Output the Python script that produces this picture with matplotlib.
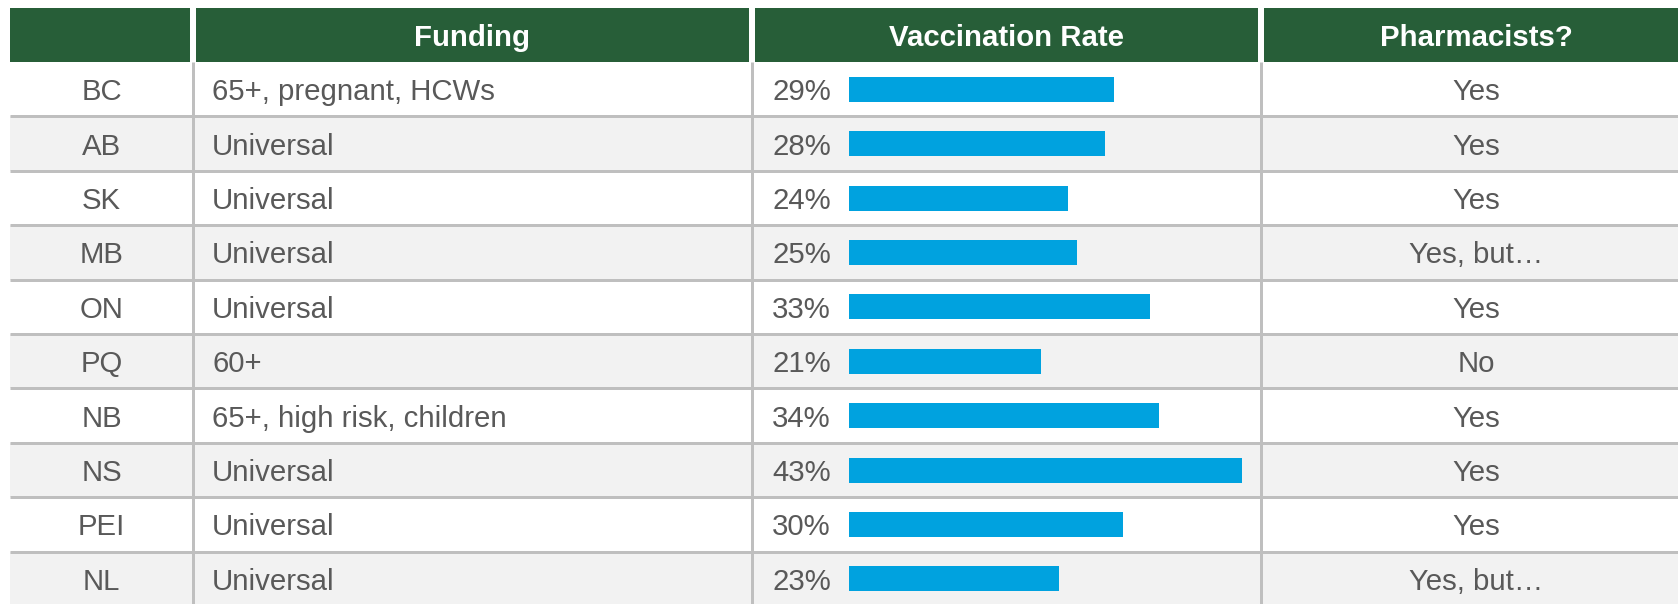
import matplotlib
matplotlib.use("Agg")
import matplotlib.pyplot as plt
from matplotlib.patches import Rectangle

# ---- data ----
provinces = ["BC", "AB", "SK", "MB", "ON", "PQ", "NB", "NS", "PEI", "NL"]
funding = ["65+, pregnant, HCWs", "Universal", "Universal", "Universal", "Universal",
           "60+", "65+, high risk, children", "Universal", "Universal", "Universal"]
vacc_rate = [29, 28, 24, 25, 33, 21, 34, 43, 30, 23]
pharmacists = ["Yes", "Yes", "Yes", "Yes, but\u2026", "Yes", "No", "Yes", "Yes", "Yes", "Yes, but\u2026"]
headers = ["", "Funding", "Vaccination Rate", "Pharmacists?"]

# ---- layout (pixels) ----
W, H = 1678, 604
col_edges = [10, 193, 752, 1261, 1678]
header_top, header_bot = 8, 62
row_h = 54.4
gap = 6
green = "#275E38"
grid = "#BFBFBF"
alt_bg = "#F2F2F2"
txt = "#595959"
bar_color = "#00A2DF"
fs = 21.2
font = ["Liberation Sans", "DejaVu Sans"]

fig = plt.figure(figsize=(W / 100, H / 100), dpi=100)
ax = fig.add_axes([0, 0, 1, 1])
ax.set_xlim(0, W)
ax.set_ylim(H, 0)
ax.axis("off")

# header
for c in range(4):
    x0 = col_edges[c] + (gap / 2 if c > 0 else 0)
    x1 = col_edges[c + 1] - (gap / 2 if c < 3 else 0)
    ax.add_patch(Rectangle((x0, header_top), x1 - x0, header_bot - header_top,
                           facecolor=green, edgecolor="none", zorder=1))
header_cx = [(col_edges[0] + col_edges[1]) / 2, (col_edges[1] + col_edges[2]) / 2,
             (col_edges[2] + col_edges[3]) / 2, 1476]
hc = (header_top + header_bot) / 2
for c, h in enumerate(headers):
    if h:
        ax.text(header_cx[c], hc + 11.5, h, ha="center", va="baseline", color="white",
                fontsize=fs, fontweight="bold", family=font, zorder=5)

n = len(provinces)
centers = [header_bot + (i + 0.5) * row_h for i in range(n)]

# row backgrounds
for i in range(n):
    if i % 2 == 1:
        ax.add_patch(Rectangle((col_edges[0], header_bot + i * row_h), W - col_edges[0], row_h,
                               facecolor=alt_bg, edgecolor="none", zorder=0))

# grid lines
lw = 3 * 72 / 100
for i in range(1, n + 1):
    y = header_bot + i * row_h
    ax.plot([col_edges[0], W], [y, y], color=grid, lw=lw, solid_capstyle="butt", zorder=2)
for x in col_edges[1:4]:
    ax.plot([x, x], [header_bot, H + 10], color=grid, lw=lw, solid_capstyle="butt", zorder=2)

# texts
for i in range(n):
    yb = centers[i] + 11
    ax.text(header_cx[0], yb, provinces[i], ha="center", va="baseline", color=txt,
            fontsize=fs, family=font, zorder=5)
    ax.text(212, yb, funding[i], ha="left", va="baseline", color=txt,
            fontsize=fs, family=font, zorder=5)
    ax.text(772, yb, f"{vacc_rate[i]}%", ha="left", va="baseline", color=txt,
            fontsize=fs, family=font, zorder=5)
    ax.text(header_cx[3], yb, pharmacists[i], ha="center", va="baseline", color=txt,
            fontsize=fs, family=font, zorder=5)

# bars on their own axes (value scale)
bar_left = 849
bar_span = 400
px_per_pct = 9.13
bax = fig.add_axes([bar_left / W, 0, bar_span / W, 1])
bax.set_xlim(0, bar_span / px_per_pct)
bax.set_ylim(H, 0)
bax.axis("off")
bax.patch.set_alpha(0)
bax.barh(centers, vacc_rate, height=25, left=0, color=bar_color, zorder=3)

fig.savefig("out.png", dpi=100)
